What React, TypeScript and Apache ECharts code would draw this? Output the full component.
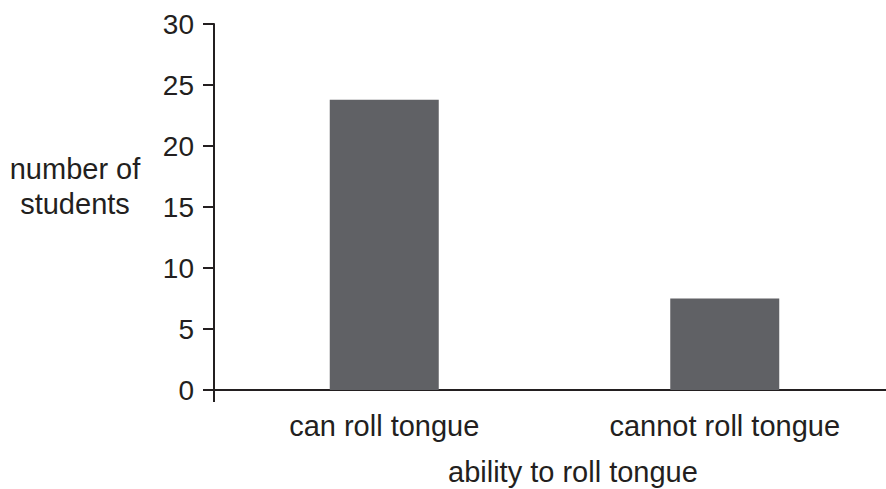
import React, { useEffect, useRef } from "react";
import * as echarts from "echarts";

const categories = ["can roll tongue", "cannot roll tongue"];
const studentCounts = [23.8, 7.5];
const yTicks = { min: 0, max: 30, interval: 5 };
const xAxisTitle = "ability to roll tongue";
const yAxisTitle = "number of\nstudents";

const FONT = "'Liberation Sans', Arial, Helvetica, sans-serif";
const INK = "#231f20";

export default function App() {
  const ref = useRef<HTMLDivElement>(null);
  useEffect(() => {
    if (!ref.current) return;
    const chart = echarts.init(ref.current, undefined, { renderer: "svg" });
    chart.setOption({
      animation: false,
      textStyle: { fontFamily: FONT },
      grid: { left: 214, right: 0, top: 24, bottom: 99, containLabel: false },
      xAxis: {
        type: "category",
        data: categories,
        axisLine: { show: true, lineStyle: { color: INK, width: 2 } },
        axisTick: { show: false },
        axisLabel: { color: INK, fontSize: 29, fontFamily: FONT, margin: 21 },
        splitLine: { show: false },
      },
      yAxis: {
        type: "value",
        min: yTicks.min,
        max: yTicks.max,
        interval: yTicks.interval,
        axisLine: { show: true, lineStyle: { color: INK, width: 2 } },
        axisTick: { show: true, inside: false, length: 11, lineStyle: { color: INK, width: 2 } },
        axisLabel: { color: INK, fontSize: 28, fontFamily: FONT, margin: 20 },
        splitLine: { show: false },
      },
      graphic: [
        {
          type: "line",
          shape: { x1: 214, y1: 390, x2: 214, y2: 402 },
          style: { stroke: INK, lineWidth: 2 },
        },
        {
          type: "text",
          left: 448,
          top: 457,
          style: { text: xAxisTitle, fill: INK, fontSize: 29, fontFamily: FONT },
        },
        {
          type: "text",
          x: 75,
          y: 186,
          style: {
            text: yAxisTitle,
            fill: INK,
            fontSize: 29,
            fontFamily: FONT,
            align: "center",
            verticalAlign: "middle",
            lineHeight: 35,
          },
        },
      ],
      series: [
        {
          type: "bar",
          data: studentCounts,
          barWidth: 109,
          itemStyle: { color: "#606165" },
        },
      ],
    });
    return () => chart.dispose();
  }, []);
  return (
    <div
      style={{ position: "fixed", left: 0, top: 0, width: 886, height: 489, overflow: "hidden", background: "#fff" }}
    >
      <div ref={ref} style={{ width: 895, height: 489 }} />
    </div>
  );
}
